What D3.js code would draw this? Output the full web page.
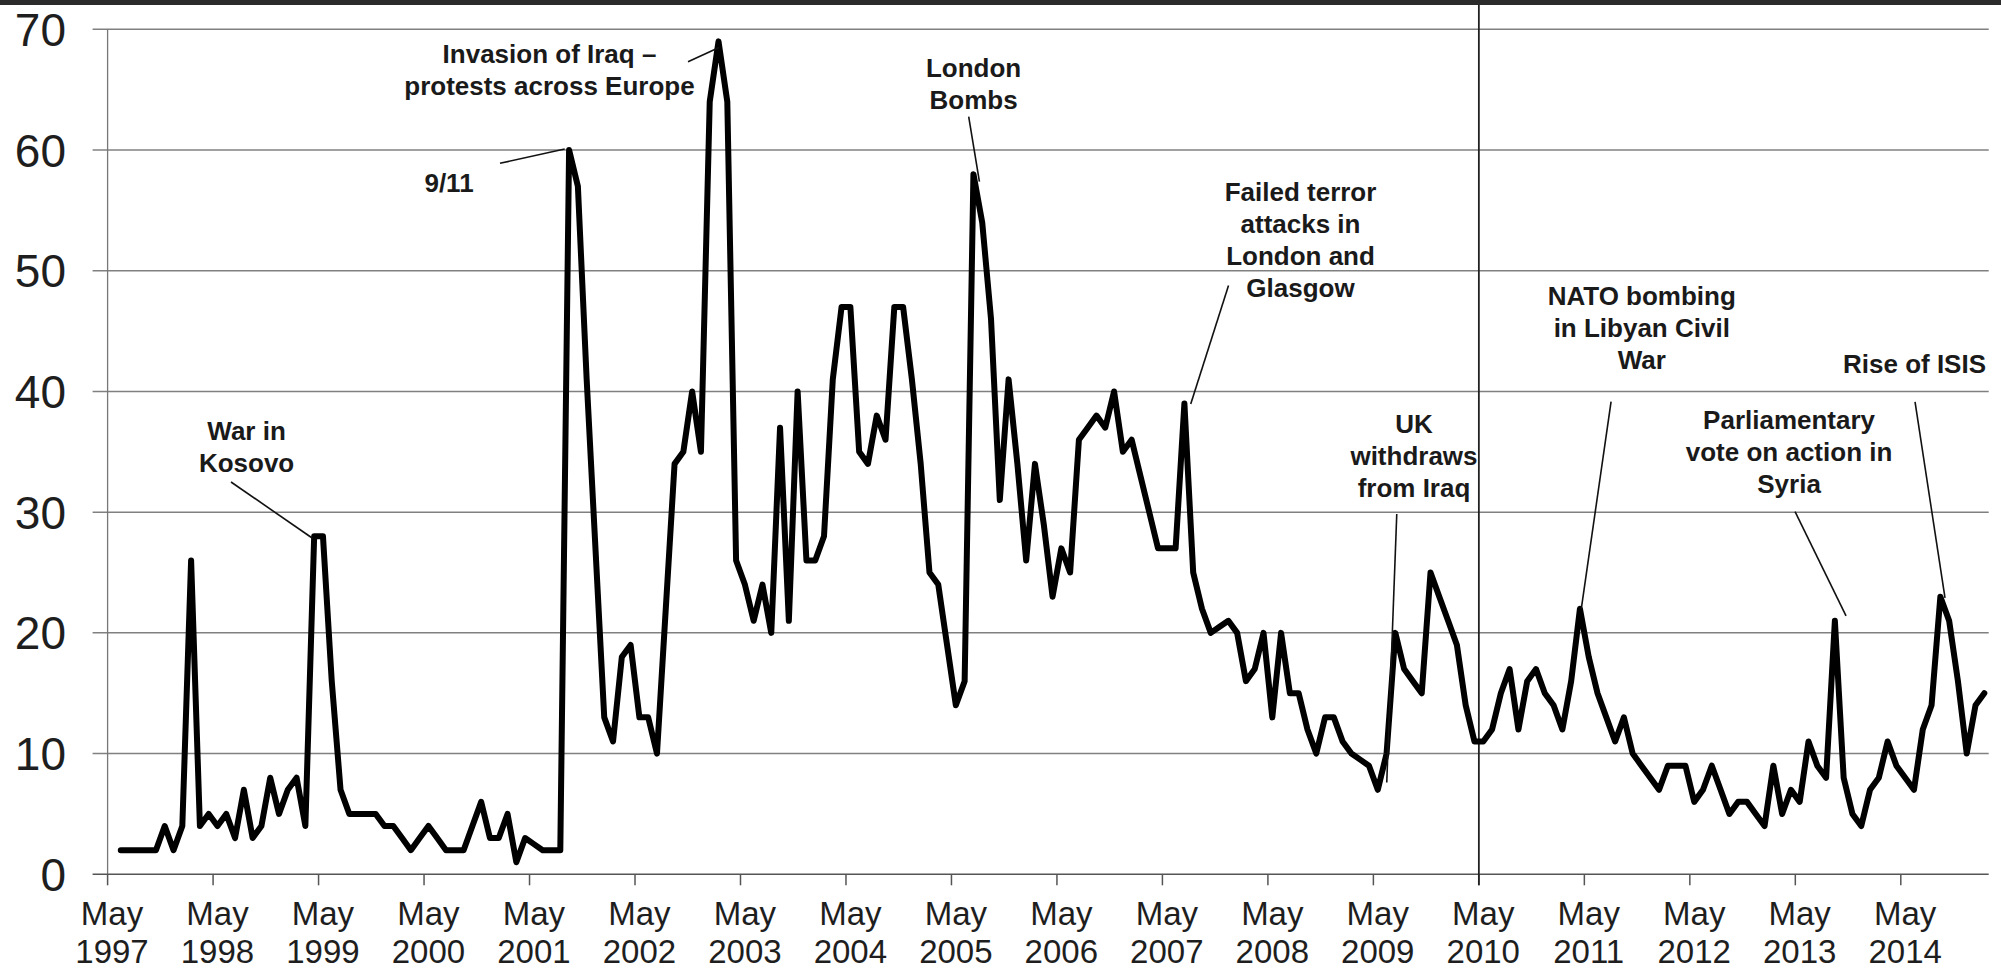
<!DOCTYPE html>
<html><head><meta charset="utf-8">
<script src="https://cdn.jsdelivr.net/npm/d3@7"></script>
<style>html,body{margin:0;padding:0;background:#fff;overflow:hidden}svg{display:block}</style>
</head><body>
<svg id="chart" width="2001" height="971"></svg>
<script>
(function () {
// ---- data ----
const startMonth = new Date(1997, 4, 1);   // May 1997
const endMonth = new Date(2015, 2, 1);     // up to Feb 2015 (exclusive Mar)
const categories = d3.timeMonth.range(startMonth, endMonth);

const values = [null,
  2,2,2,2,2,4,2,4,26,4,5,4,5,3,7,3,4,8,5,7,8,4,28,28,16,7,5,5,5,5,
  4,4,3,2,3,4,3,2,2,2,4,6,3,3,5,1,3,2.5,2,2,2,60,57,41,27,13,11,18,19,13,
  13,10,22,34,35,40,35,64,69,64,26,24,21,24,20,37,21,40,26,26,28,41,47,47,35,34,38,36,47,47,
  41,34,25,24,19,14,16,58,54,46,31,41,34,26,34,29,23,27,25,36,37,38,37,40,35,36,33,30,27,27,
  27,39,25,22,20,20.5,21,20,16,17,20,13,20,15,15,12,10,13,13,11,10,9.5,9,7,10,20,17,16,15,25,
  23,21,19,14,11,11,12,15,17,12,16,17,15,14,12,16,22,18,15,13,11,13,10,9,8,7,9,9,9,6,
  7,9,7,5,6,6,5,4,9,5,7,6,11,9,8,21,8,5,4,7,8,11,9,8,7,12,14,23,21,16,
  10,14,15];

const yTicks = [0, 10, 20, 30, 40, 50, 60, 70];
const tickMonthLabel = "May";
const tickYears = ["1997","1998","1999","2000","2001","2002","2003","2004","2005",
                   "2006","2007","2008","2009","2010","2011","2012","2013","2014"];
const dividerYear = "2010";

// annotation texts, anchored in data units (category position, value)
const annotations = [
  {lines: ["War in", "Kosovo"], at: [15.81, 36.0], leader: [[14.04, 32.50], [23.31, 27.84]]},
  {lines: ["9/11"], at: [38.84, 56.55], leader: [[44.64, 58.90], [52.00, 60.09]]},
  {lines: ["Invasion of Iraq \u2013", "protests across Europe"], at: [50.27, 67.21], leader: [[66.03, 67.32], [69.56, 68.49]]},
  {lines: ["London", "Bombs"], at: [98.52, 66.05], leader: [[97.96, 62.76], [99.18, 57.38]]},
  {lines: ["Failed terror", "attacks in", "London and", "Glasgow"], at: [135.71, 55.78], leader: [[127.52, 48.78], [123.22, 38.96]]},
  {lines: ["UK", "withdraws", "from Iraq"], at: [148.62, 36.56], leader: [[146.66, 29.85], [145.52, 7.61]]},
  {lines: ["NATO bombing", "in Libyan Civil", "War"], at: [174.53, 47.16], leader: [[171.04, 39.15], [167.65, 21.98]]},
  {lines: ["Parliamentary", "vote on action in", "Syria"], at: [191.29, 36.89], leader: [[191.97, 30.04], [197.77, 21.40]]},
  {lines: ["Rise of ISIS"], at: [205.56, 41.52], leader: [[205.62, 39.13], [209.03, 22.89]]}
];

// ---- layout ----
const W = 2001, H = 971;
const plotL = 107.6, plotR = 1988.7, plotT = 29.3, plotB = 874.3;
const FONT = "'Liberation Sans', Arial, Helvetica, sans-serif";

const svg = d3.select("#chart");
svg.append("rect").attr("width", W).attr("height", H).attr("fill", "#fff");
svg.append("rect").attr("x", 0).attr("y", 0).attr("width", W).attr("height", 5).attr("fill", "#2b2b2b");

const x = d3.scaleBand().domain(categories.map(d => +d)).range([plotL, plotR]).padding(0);
const xPos = d3.scaleLinear().domain([0, categories.length]).range([plotL, plotR]);
const y = d3.scaleLinear().domain([0, 70]).range([plotB, plotT]);
const bw = x.bandwidth();

// gridlines
svg.append("g").selectAll("line").data(yTicks.filter(v => v > 0)).join("line")
  .attr("x1", plotL - 15).attr("x2", plotR)
  .attr("y1", d => y(d)).attr("y2", d => y(d))
  .attr("stroke", "#808080").attr("stroke-width", 1.5);

// y axis line
svg.append("line").attr("x1", plotL).attr("x2", plotL).attr("y1", y(70)).attr("y2", y(0))
  .attr("stroke", "#777").attr("stroke-width", 1.3);

// y labels
svg.append("g").selectAll("text").data(yTicks).join("text")
  .attr("x", 66).attr("y", d => y(d) + 16.5)
  .attr("text-anchor", "end")
  .attr("font-family", FONT).attr("font-size", 46).attr("fill", "#1e1e1e")
  .text(d => d);

// x axis line
svg.append("line").attr("x1", plotL - 15).attr("x2", plotR).attr("y1", y(0)).attr("y2", y(0))
  .attr("stroke", "#555").attr("stroke-width", 1.5);

// x ticks + labels
const tickDates = tickYears.map(yr => new Date(+yr, 4, 1));
const xt = svg.append("g");
xt.selectAll("line").data(tickDates).join("line")
  .attr("x1", d => x(+d)).attr("x2", d => x(+d))
  .attr("y1", y(0)).attr("y2", y(0) + 11)
  .attr("stroke", "#555").attr("stroke-width", 1.5);
const lab = xt.selectAll("text").data(tickDates).join("text")
  .attr("font-family", FONT).attr("font-size", 33).attr("fill", "#1e1e1e")
  .attr("text-anchor", "middle");
lab.append("tspan").attr("x", d => x(+d) + bw / 2).attr("y", 925).text(tickMonthLabel);
lab.append("tspan").attr("x", d => x(+d) + bw / 2).attr("y", 963).text((d, i) => tickYears[i]);

// divider at May 2010
const divX = x(+new Date(+dividerYear, 4, 1));
svg.append("line").attr("x1", divX).attr("x2", divX).attr("y1", 5).attr("y2", y(0) + 11)
  .attr("stroke", "#222").attr("stroke-width", 1.8);

// data line
const pts = categories.map((d, i) => ({d, v: values[i]}));
const line = d3.line()
  .defined(p => p.v !== null && p.v !== undefined)
  .x(p => x(+p.d) + bw / 2)
  .y(p => y(p.v));
svg.append("path").datum(pts).attr("d", line)
  .attr("fill", "none").attr("stroke", "#000").attr("stroke-width", 6)
  .attr("stroke-linejoin", "round").attr("stroke-linecap", "round");

// annotations
const ag = svg.append("g");
annotations.forEach(a => {
  ag.append("line")
    .attr("x1", xPos(a.leader[0][0])).attr("y1", y(a.leader[0][1]))
    .attr("x2", xPos(a.leader[1][0])).attr("y2", y(a.leader[1][1]))
    .attr("stroke", "#111").attr("stroke-width", 1.6);
  const t = ag.append("text")
    .attr("font-family", FONT).attr("font-size", 26).attr("font-weight", "bold")
    .attr("fill", "#1a1a1a").attr("text-anchor", "middle");
  a.lines.forEach((ln, i) => {
    t.append("tspan").attr("x", xPos(a.at[0])).attr("y", y(a.at[1]) + i * 32).text(ln);
  });
});
})();
</script>
</body></html>
